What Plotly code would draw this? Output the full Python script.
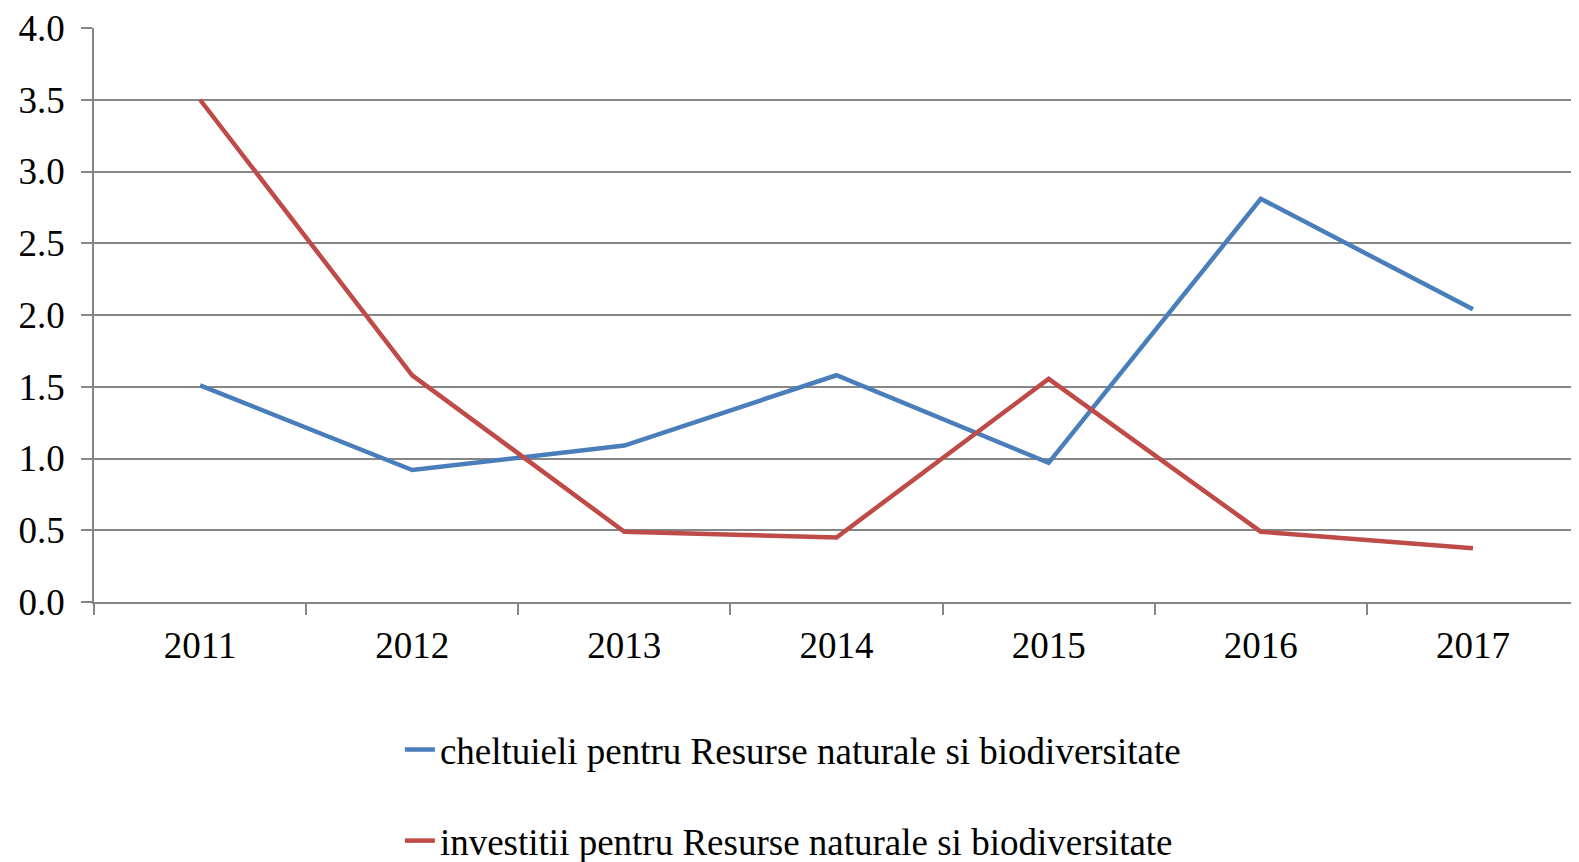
import plotly.graph_objects as go

years = ['2011', '2012', '2013', '2014', '2015', '2016', '2017']
cheltuieli = [1.51, 0.92, 1.09, 1.58, 0.97, 2.81, 2.04]
investitii = [3.50, 1.58, 0.49, 0.45, 1.555, 0.49, 0.375]

names = ['cheltuieli pentru Resurse naturale si biodiversitate',
         'investitii pentru Resurse naturale si biodiversitate']
colors = ['#4A7EBB', '#BE4B48']

fig = go.Figure()
for i, (name, vals) in enumerate(zip(names, [cheltuieli, investitii])):
    fig.add_trace(go.Scatter(
        x=years, y=vals, mode='lines', name=name,
        legendgroup=f'g{i}',
        line=dict(color=colors[i], width=4.5)
    ))

# page body has an 8px margin, so the figure is sized/offset to compensate
font = 'Liberation Serif, Times New Roman, serif'
fig.update_layout(
    width=1571, height=854,
    margin=dict(l=86, r=0, t=20, b=260),
    paper_bgcolor='white', plot_bgcolor='white',
    font=dict(family=font, size=37, color='black'),
    showlegend=True,
    legend=dict(orientation='v', x=0.206, xanchor='left', yref='container', y=0.1675, yanchor='top',
                tracegroupgap=40, font=dict(size=37), bgcolor='rgba(0,0,0,0)'),
)
fig.update_xaxes(
    type='category', showgrid=False, showline=True, linecolor='#868686', linewidth=1.5,
    ticks='outside', tickson='boundaries', ticklen=11, tickcolor='#868686', tickwidth=1.5,
    ticklabelstandoff=10, range=[-0.5, 6.5], automargin=False
)
fig.update_yaxes(
    range=[0, 4], dtick=0.5, tickformat='.1f', showgrid=True, gridcolor='#868686', gridwidth=1.5,
    showline=True, linecolor='#868686', linewidth=1.5, zeroline=False,
    ticks='outside', ticklen=11, tickcolor='#868686', tickwidth=1.5, ticklabelstandoff=9,
    ticklabeloverflow='allow', automargin=False
)

fig.write_html('out.html')
